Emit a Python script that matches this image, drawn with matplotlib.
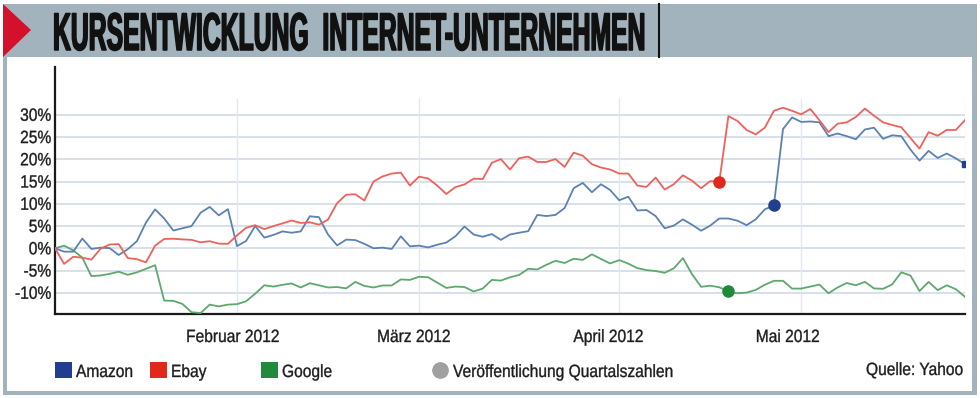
import matplotlib
matplotlib.use("Agg")
import matplotlib.pyplot as plt
from matplotlib.lines import Line2D
from matplotlib.patches import Polygon, Rectangle
from matplotlib.patheffects import AbstractPathEffect
from matplotlib.transforms import Affine2D, blended_transform_factory, offset_copy

# Kursentwicklung in % seit Jahresbeginn, je Handelstag (3. Jan. - 25. Mai 2012)
amazon = [
    0.0, -0.75, -0.75, 2.2, -0.15, 0.15, 0.05, -1.5, -0.2, 1.6,
    5.8, 8.75, 6.7, 4.0, 4.5, 5.0, 8.0, 9.3, 7.4, 8.8,
    0.5, 1.65, 5.0, 2.4, 3.0, 3.8, 3.5, 3.8, 7.2, 7.0,
    3.1, 0.65, 1.95, 1.85, 1.0, 0.0, 0.15, -0.15, 2.7, 0.45,
    0.6, 0.2, 0.8, 1.3, 2.7, 4.9, 3.1, 2.6, 3.2, 1.9,
    3.1, 3.5, 3.85, 7.5, 7.25, 7.5, 9.05, 13.5, 14.7, 12.6,
    14.4, 13.1, 10.8, 11.6, 8.5, 8.6, 7.25, 4.5, 5.1, 6.5,
    5.3, 3.95, 5.1, 6.7, 6.7, 6.2, 5.2, 6.5, 8.75, 9.65,
    26.8, 29.4, 28.4, 28.5, 28.3, 25.2, 25.8, 25.2, 24.5, 26.7,
    27.1, 24.6, 25.4, 25.2, 22.2, 19.7, 21.9, 20.3, 21.3, 20.2,
    18.9,
]
ebay = [
    0.0, -3.5, -1.9, -2.1, -2.55, -0.1, 0.85, 0.95, -2.2, -2.45,
    -3.15, 0.6, 2.1, 2.15, 2.0, 1.9, 1.35, 1.6, 1.05, 1.0,
    2.9, 4.6, 5.2, 4.3, 5.0, 5.6, 6.25, 5.7, 5.85, 5.3,
    6.45, 10.15, 12.05, 12.15, 10.75, 15.0, 16.15, 16.8, 17.0, 14.1,
    16.1, 15.7, 14.1, 12.2, 13.75, 14.35, 15.65, 15.55, 19.2, 20.05,
    17.7, 20.25, 20.6, 19.4, 19.4, 20.05, 18.3, 21.5, 20.8, 18.9,
    18.15, 17.7, 16.8, 16.8, 14.1, 13.8, 15.9, 13.2, 14.4, 16.4,
    15.2, 13.5, 15.1, 15.0, 29.7, 28.6, 26.6, 25.6, 27.1, 30.9,
    31.6, 30.9, 30.1, 31.3, 28.8, 26.1, 28.0, 28.3, 29.5, 31.4,
    29.8, 28.3, 27.7, 27.2, 24.8, 22.4, 26.1, 25.3, 26.6, 26.6,
    28.8,
]
google = [
    0.0, 0.6, -0.45, -2.1, -6.25, -6.1, -5.75, -5.25, -5.95, -5.4,
    -4.6, -3.8, -11.75, -11.8, -12.5, -14.35, -14.55, -12.65, -13.05, -12.65,
    -12.55, -11.9, -10.2, -8.3, -8.6, -8.2, -7.9, -8.8, -7.85, -8.3,
    -8.8, -8.7, -9.0, -7.55, -8.45, -8.8, -8.35, -8.35, -7.0, -7.1,
    -6.4, -6.5, -7.7, -8.9, -8.6, -8.7, -9.7, -9.05, -7.1, -7.25,
    -6.5, -6.0, -4.6, -4.75, -3.7, -2.8, -3.3, -2.35, -2.6, -1.35,
    -2.4, -3.4, -2.65, -3.45, -4.45, -4.9, -5.1, -5.5, -4.5, -2.2,
    -5.8, -8.65, -8.4, -8.75, -9.7, -10.1, -9.95, -9.35, -8.2, -7.3,
    -7.3, -9.05, -9.05, -8.6, -8.15, -10.1, -8.8, -7.8, -8.3, -7.55,
    -9.0, -9.1, -8.1, -5.4, -6.1, -9.6, -7.55, -9.4, -8.3, -9.2,
    -10.9,
]

# Handelstag der Veröffentlichung der Quartalszahlen
release_day = {"Amazon": 79, "Ebay": 73, "Google": 74}

month_start = [20, 40, 62, 82]
month_labels = ["Februar 2012", "März 2012", "April 2012", "Mai 2012"]
y_ticks = [-10, -5, 0, 5, 10, 15, 20, 25, 30]

W, H = 980, 398
FRAME = "#a3b3bd"
TEXT = "#1c1c1c"
line_colors = {"Amazon": "#5b82b3", "Ebay": "#ee625a", "Google": "#5ea86d"}
dark_colors = {"Amazon": "#213e8f", "Ebay": "#e2271c", "Google": "#1f8a3b"}


class Stretch(AbstractPathEffect):
    """Glyphen um die Grundlinie strecken (wirkt wie eine Condensed-Schrift)."""

    def __init__(self, sx=1.0, sy=1.0, lw=0.0):
        super().__init__()
        self.sx, self.sy, self.lw = sx, sy, lw

    def draw_path(self, renderer, gc, tpath, affine, rgbFace=None):
        aff = Affine2D().scale(self.sx, self.sy) + affine
        if self.lw:
            gc0 = renderer.new_gc()
            gc0.copy_properties(gc)
            gc0.set_linewidth(self.lw)
            gc0.set_foreground(rgbFace)
            renderer.draw_path(gc0, tpath, aff, rgbFace)
            gc0.restore()
        else:
            renderer.draw_path(gc, tpath, aff, rgbFace)


def fx(px):
    return px / W


def fy(py):
    return 1 - py / H


plt.rcParams["font.family"] = ["Liberation Sans", "DejaVu Sans"]
SIZE = 11.2          # pt, ~15.5 px Geviert
CONDENSED = [Stretch(sy=1.14, lw=0.25)]

fig = plt.figure(figsize=(W / 100, H / 100), dpi=100)
fig.patch.set_facecolor("white")

# Rahmen und Titelband
fig.add_artist(Rectangle((fx(3), fy(57)), fx(974), 53 / H, color=FRAME, lw=0, zorder=0))
fig.add_artist(Rectangle((fx(3), fy(395)), fx(4), (395 - 57) / H, color=FRAME, lw=0))
fig.add_artist(Rectangle((fx(972), fy(395)), fx(5), (395 - 57) / H, color=FRAME, lw=0))
fig.add_artist(Rectangle((fx(3), fy(395)), fx(974), 4 / H, color=FRAME, lw=0))
fig.add_artist(Polygon([(fx(3), fy(4)), (fx(3), fy(57)), (fx(31), fy(30))],
                       closed=True, color="#d3112d", lw=0))
fig.add_artist(Line2D([fx(659), fx(659)], [fy(4), fy(57)], color="#111111", lw=1.5))

title = fig.text(fx(53), fy(50), "KURSENTWICKLUNG  INTERNET-UNTERNEHMEN",
                 fontweight="bold", fontsize=17.6, color="#111111",
                 va="baseline", ha="left")
renderer = fig.canvas.get_renderer()
tw = title.get_window_extent(renderer=renderer).width
title_size = 17.6 * 591 / tw
title.set_fontsize(title_size)
title.set_path_effects([Stretch(sy=38 / (0.716 * title_size * 100 / 72), lw=1.1)])

# Diagramm
ax = fig.add_axes([fx(55), fy(314), fx(910), (314 - 67) / H])
ax.set_xlim(0, len(amazon) - 1)
ymin, ymax = -14.76, 40.74
ax.set_ylim(ymin, ymax)

ax.hlines(y_ticks, 0, len(amazon) - 1, color="#d7e1ea", lw=1.4, zorder=1)
ax.vlines(month_start + [len(amazon) - 1], ymin, 33.8, color="#e0e8ef", lw=1.0, zorder=1)

days = list(range(len(amazon)))
series = {"Amazon": amazon, "Ebay": ebay, "Google": google}
for name in ["Google", "Amazon", "Ebay"]:
    ax.plot(days, series[name], color=line_colors[name], lw=1.3, zorder=3)
for name, d in release_day.items():
    ax.plot(d, series[name][d], "o", ms=8, color=dark_colors[name], zorder=4)
ax.plot(days[-1], amazon[-1], "s", ms=5, color=dark_colors["Amazon"], zorder=4)

for side in ["top", "right"]:
    ax.spines[side].set_visible(False)
for side in ["left", "bottom"]:
    ax.spines[side].set_color("#1a1a1a")
    ax.spines[side].set_linewidth(1.6)
ax.set_xticks([])
ax.set_yticks([])

# y-Beschriftung: rechtsbündig, Grundlinie 6 px unter der Gitterlinie
ylab_trans = offset_copy(blended_transform_factory(fig.transFigure, ax.transData),
                         fig=fig, y=-6, units="dots")
for v in y_ticks:
    fig.text(fx(51), v, f"{v}%", transform=ylab_trans, ha="right", va="baseline",
             fontsize=SIZE, color=TEXT, path_effects=CONDENSED)

label_trans = blended_transform_factory(ax.transData, fig.transFigure)
for d, lab, off in zip(month_start, month_labels, [0.5, 0.6, 1.2, 1.5]):
    ax.text(d - off, fy(342), lab, transform=label_trans, ha="center", va="baseline",
            fontsize=SIZE, color=TEXT, path_effects=CONDENSED)

# Legende
legend_items = [("Amazon", 55), ("Ebay", 150), ("Google", 261)]
for name, x0 in legend_items:
    fig.add_artist(Rectangle((fx(x0), fy(378)), fx(17), 16 / H,
                             color=dark_colors[name], lw=0))
    fig.text(fx(x0 + 21), fy(377), name, ha="left", va="baseline",
             fontsize=SIZE, color=TEXT, path_effects=CONDENSED)
fig.add_artist(Line2D([fx(440)], [fy(370)], marker="o", ms=11, color="#a0a0a0"))
fig.text(fx(453), fy(377), "Veröffentlichung Quartalszahlen", ha="left",
         va="baseline", fontsize=SIZE, color=TEXT, path_effects=CONDENSED)
fig.text(fx(963), fy(375), "Quelle: Yahoo", ha="right", va="baseline",
         fontsize=SIZE, color=TEXT, path_effects=CONDENSED)

fig.savefig("out.png", dpi=100)
plt.close(fig)
